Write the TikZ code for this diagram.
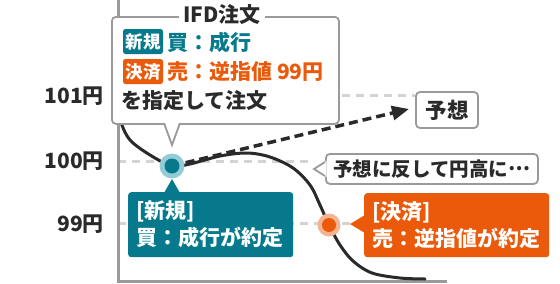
\documentclass[tikz,border=0pt]{standalone}
\usepackage{fontspec}
\setmainfont{Noto Sans CJK JP}
\usetikzlibrary{arrows.meta}
\definecolor{cteal}{HTML}{067A8C}
\definecolor{corange}{HTML}{EA5A0A}
\definecolor{cdark}{HTML}{2A2A2A}
\definecolor{cborder}{HTML}{9A9A9A}
\definecolor{cgrid}{HTML}{D3D3D3}
\definecolor{ctealhalo}{HTML}{92CCD6}
\definecolor{corangehalo}{HTML}{F5B393}
\begin{document}
\begin{tikzpicture}[x=1pt,y=-1pt,
  gridline/.style={draw=cgrid, line width=3pt, dash pattern=on 8pt off 6pt},
  axisline/.style={draw=cborder, line width=3pt},
  pricecurve/.style={draw=cdark, line width=3pt, line cap=round},
  forecast/.style={draw=cdark, line width=3.5pt, dash pattern=on 9pt off 5pt, -{Triangle[length=17pt,width=14pt]}},
  frame/.style={draw=cborder, line width=1.8pt, fill=white, rounded corners=4pt, inner sep=0pt},
  frameline/.style={draw=cborder, line width=1.8pt},
  lbl/.style={font=\fontsize{21}{25}\selectfont\bfseries, text=cdark, inner sep=0pt},
  badge/.style={font=\fontsize{17.5}{20}\selectfont\bfseries, text=white, inner sep=0pt, minimum width=40pt, minimum height=25pt, rounded corners=2.5pt},
  resbox/.style={font=\fontsize{21}{27}\selectfont\bfseries, text=white, inner xsep=8pt, inner ysep=0pt, align=left, rounded corners=3pt, anchor=north west}
]
\useasboundingbox (0,0) rectangle (560,284);

% price labels
\node[lbl, anchor=east] (l101) at (104,96) {101円};
\node[lbl, anchor=east] (l100) at (104,161) {100円};
\node[lbl, anchor=east] (l99) at (104,224) {99円};

% forecast label box
\node[frame, font=\fontsize{21.5}{25}\selectfont\bfseries, text=cdark, minimum width=62pt, minimum height=36pt] (yoso) at (447,110) {予想};

% grid lines
\coordinate (g101) at (118,95);
\coordinate (g100) at (118,161);
\coordinate (g99) at (118,223);
\coordinate (hantaitip) at (314,169);
\coordinate (orangetip) at (350,224);
\draw[gridline] (g101) -- (yoso.west |- g101);
\draw[gridline] (g100) -- (hantaitip |- g100);
\draw[gridline] (g99) -- (orangetip |- g99);

% axes
\coordinate (axtop) at (118,0);
\coordinate (axorigin) at (118,281.5);
\coordinate (axend) at (447,281.5);
\draw[axisline] (axtop) -- (axorigin) -- (axend);

% price curve
\coordinate (tealdot) at (172,166);
\coordinate (orangedot) at (329,225);
\draw[pricecurve] plot[smooth, tension=0.55] coordinates {(120,105) (121,122) (130,140) (150,155) (172,166) (190,164) (220,156) (247,153) (270,157) (293,168) (310,185) (320,205) (329,225) (340,245) (353,261) (372,273) (400,278) (425,279)};

% forecast arrow
\coordinate (arrowend) at (409,109);
\draw[forecast] (tealdot) -- (arrowend);

% IFD box
\node[frame, minimum width=227pt, minimum height=107pt, anchor=north west] (ifd) at (111,16) {};
\coordinate (ifdtip) at (172,145);
\fill[white] (164,121) -- (ifdtip) -- (180,121) -- cycle;
\draw[frameline] (164,123) -- (ifdtip) -- (180,123);
\node[lbl, fill=white, inner xsep=4pt] (title) at (222,15) {IFD注文};
\node[badge, fill=cteal] (shinki) at (143,41.5) {新規};
\node[badge, fill=corange] (kessai) at (143,71.5) {決済};
\node[lbl, text=cteal, anchor=west] (buy) at (167,42) {買：成行};
\node[lbl, text=corange, anchor=west] (sell) at (167,72) {売：逆指値 99円};
\node[lbl, anchor=west] (order) at (121,101) {を指定して注文};

% hantai callout
\node[frame, font=\fontsize{19.5}{23}\selectfont\bfseries, text=cdark, minimum width=212pt, minimum height=30pt, anchor=north west] (hantai) at (325,153) {予想に反して円高に\raisebox{0.3em}{…}};
\fill[white] (326.5,161) -- (hantaitip) -- (326.5,177) -- cycle;
\draw[frameline] (325,162) -- (hantaitip) -- (325,176);

% dots
\fill[ctealhalo] (tealdot) circle (12.5);
\fill[cteal] (tealdot) circle (7.5);
\fill[corangehalo] (orangedot) circle (11.5);
\fill[corange] (orangedot) circle (7);

% result boxes
\node[resbox, fill=cteal, minimum height=65pt, text width=149pt] (buyres) at (128,192) {[新規]\\買：成行が約定};
\coordinate (tealtip) at (172,179);
\fill[cteal] (164,193) -- (tealtip) -- (180,193) -- cycle;
\node[resbox, fill=corange, minimum height=64pt, text width=169pt] (sellres) at (364,193) {[決済]\\売：逆指値が約定};
\fill[corange] (365,215) -- (orangetip) -- (365,233) -- cycle;
\end{tikzpicture}
\end{document}
